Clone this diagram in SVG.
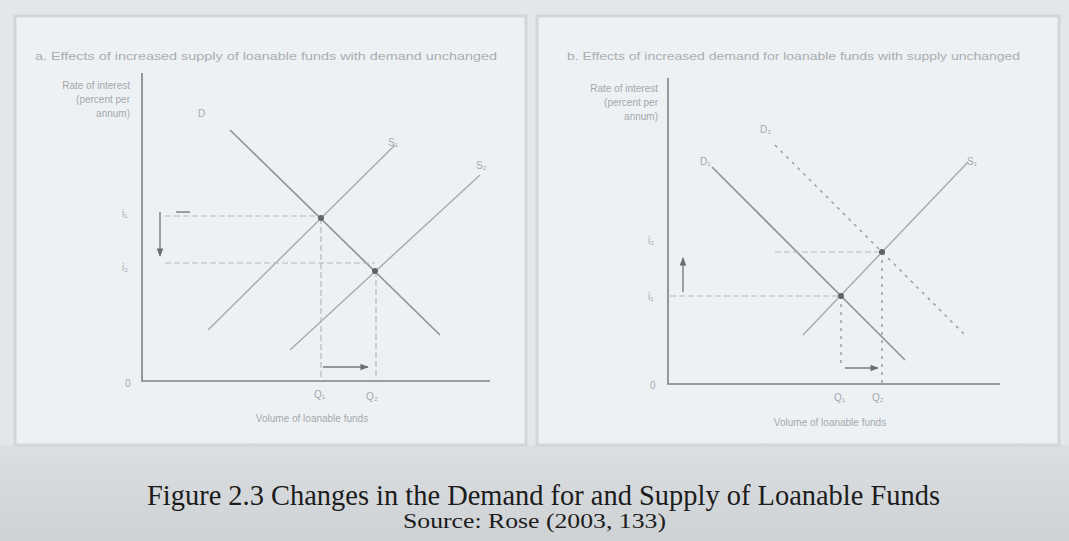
<svg xmlns="http://www.w3.org/2000/svg" width="1069" height="541" viewBox="0 0 1069 541">
<style>
.panel{fill:#eef1f4;stroke:#d3d6d9;stroke-width:3}
.axis{stroke:#7d8185;stroke-width:1.6;fill:none}
.curve{stroke:#8e9296;stroke-width:1.6;fill:none}
.curve2{stroke:#a6aaae;stroke-width:1.4;fill:none}
.dotted{stroke:#9a9ea2;stroke-width:1.5;fill:none;stroke-dasharray:3 5}
.guide{stroke:#b4b8bc;stroke-width:1.2;fill:none;stroke-dasharray:6 3}
.arr{stroke:#777b7f;stroke-width:1.4;fill:none}
.dot{fill:#5f6367}
.lbl{font-family:"Liberation Sans",Arial,sans-serif;font-size:10px;fill:#a4a8ac}
.ttl{font-family:"Liberation Sans",Arial,sans-serif;font-size:10px;fill:#a9adb1}
.cap{font-family:"Liberation Serif","Times New Roman",serif;fill:#1c1c1c}
</style>
<defs>
<marker id="ah" viewBox="0 0 10 10" refX="9" refY="5" markerWidth="6" markerHeight="6" orient="auto"><path d="M0,1 L10,5 L0,9 z" fill="#6b6f73"/></marker>
<linearGradient id="band" x1="0" y1="0" x2="0" y2="1"><stop offset="0" stop-color="#dcdfe2"/><stop offset="1" stop-color="#cfd2d5"/></linearGradient>
</defs>
<rect x="0" y="0" width="1069" height="541" fill="#e4e7e9"/>
<rect x="0" y="445" width="1069" height="96" fill="url(#band)"/>
<g id="panel-a">
<rect class="panel" x="15" y="16" width="511" height="429"/>
<text class="ttl" x="35" y="60" textLength="462" lengthAdjust="spacingAndGlyphs">a. Effects of increased supply of loanable funds with demand unchanged</text>
<text class="lbl" text-anchor="end" x="130" y="89">Rate of interest</text>
<text class="lbl" text-anchor="end" x="130" y="103">(percent per</text>
<text class="lbl" text-anchor="end" x="130" y="117">annum)</text>
<text class="lbl" x="122" y="217">i₁</text>
<text class="lbl" x="122" y="271">i₂</text>
<text class="lbl" x="125" y="387">0</text>
<text class="lbl" x="198" y="117">D</text>
<text class="lbl" x="388" y="146">S₁</text>
<text class="lbl" x="476" y="169">S₂</text>
<text class="lbl" x="314" y="398">Q₁</text>
<text class="lbl" x="366" y="400">Q₂</text>
<text class="lbl" text-anchor="middle" x="312" y="422">Volume of loanable funds</text>
</g>
<g id="panel-b">
<rect class="panel" x="537" y="16" width="522" height="429"/>
<text class="ttl" x="567" y="60" textLength="453" lengthAdjust="spacingAndGlyphs">b. Effects of increased demand for loanable funds with supply unchanged</text>
<text class="lbl" text-anchor="end" x="658" y="92">Rate of interest</text>
<text class="lbl" text-anchor="end" x="658" y="106">(percent per</text>
<text class="lbl" text-anchor="end" x="658" y="120">annum)</text>
<text class="lbl" x="648" y="244">i₂</text>
<text class="lbl" x="648" y="300">i₁</text>
<text class="lbl" x="650" y="389">0</text>
<text class="lbl" x="700" y="165">D₁</text>
<text class="lbl" x="760" y="133">D₂</text>
<text class="lbl" x="967" y="165">S₁</text>
<text class="lbl" x="834" y="401">Q₁</text>
<text class="lbl" x="872" y="401">Q₂</text>
<text class="lbl" text-anchor="middle" x="830" y="426">Volume of loanable funds</text>
</g>
<g id="connectors">
<path class="axis" d="M142,73 V381 H490"/>
<path class="curve" d="M230,130 L440,335"/>
<path class="curve2" d="M208,330 L395,145"/>
<path class="curve2" d="M290,350 L480,175"/>
<path class="guide" d="M165,216 H321 M165,263 H375"/>
<path class="guide" d="M321,218 V381 M376,271 V381"/>
<path class="arr" d="M160,212 V256" marker-end="url(#ah)"/>
<path class="arr" d="M176,212 H190"/>
<path class="arr" d="M323,367 H368" marker-end="url(#ah)"/>
<circle class="dot" cx="321" cy="218" r="3"/>
<circle class="dot" cx="375" cy="271" r="3"/>
<path class="axis" d="M668,78 V384 H1000"/>
<path class="curve" d="M712,167 L905,360"/>
<path class="dotted" d="M775,145 L965,335"/>
<path class="curve2" d="M803,335 L968,162"/>
<path class="guide" d="M775,252 H882 M670,296 H841"/>
<path class="dotted" d="M841,296 V366 M882,252 V384"/>
<path class="arr" d="M683,292 V258" marker-end="url(#ah)"/>
<path class="arr" d="M845,368 H878" marker-end="url(#ah)"/>
<circle class="dot" cx="841" cy="296" r="3"/>
<circle class="dot" cx="882" cy="252" r="3"/>
</g>
<g id="caption">
<text class="cap" x="147" y="505" font-size="29" textLength="793" lengthAdjust="spacingAndGlyphs">Figure 2.3 Changes in the Demand for and Supply of Loanable Funds</text>
<text class="cap" x="403" y="528" font-size="20" textLength="263" lengthAdjust="spacingAndGlyphs">Source: Rose (2003, 133)</text>
</g>
</svg>
